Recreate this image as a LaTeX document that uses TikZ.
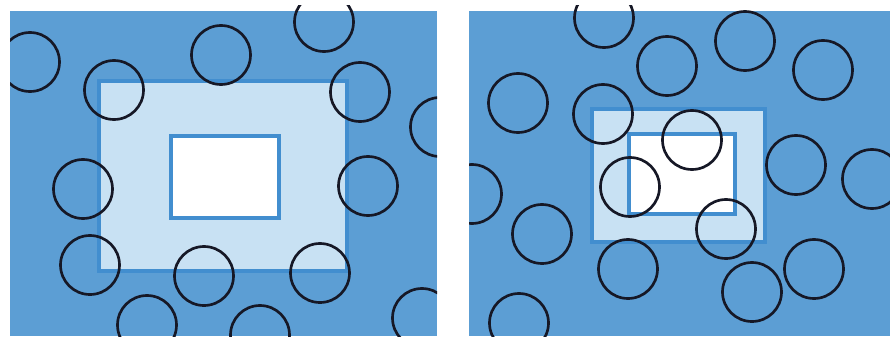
\documentclass[tikz,border=0pt]{standalone}
\usepackage{xcolor}
\usepackage{tikz}
\definecolor{mare}{RGB}{92,158,212}
\definecolor{bordo}{RGB}{66,142,207}
\definecolor{chiaro}{RGB}{200,225,243}
\definecolor{inchiostro}{RGB}{22,24,38}

\begin{document}
\begin{tikzpicture}[x=0.75pt,y=-0.75pt,
  campo/.style={fill=mare},
  zona/.style={fill=chiaro,draw=bordo,line width=3.4pt},
  centro/.style={fill=white,draw=bordo,line width=2.8pt},
  anello/.style={draw=inchiostro,line width=2pt}]
  \useasboundingbox (0,0) rectangle (890,336);

  % Pannello sinistro
  \fill[campo] (10,11) rectangle (437,336);
  \draw[zona] (99,81) rectangle (347,271);
  \draw[centro] (171,136) rectangle (279,218);
  \begin{scope}
    \clip (10,5) rectangle (437,336);
    \foreach \x/\y in {30/62,114/90,221/55,324/22,360/92,440/127,
                       83/189,368/186,90/265,204/276,320/273,
                       147/325,260/335,422/318}
      \draw[anello] (\x,\y) circle[radius=29.5];
  \end{scope}

  % Pannello destro
  \fill[campo] (469,11) rectangle (890,336);
  \draw[zona] (592,109) rectangle (765,242);
  \draw[centro] (629,134) rectangle (735,214);
  \begin{scope}
    \clip (469,5) rectangle (890,336);
    \foreach \x/\y in {604/18,667/66,745/41,823/70,518/103,603/114,
                       692/140,472/194,630/187,796/165,872/179,
                       542/234,726/229,628/269,814/269,752/292,519/323}
      \draw[anello] (\x,\y) circle[radius=29.5];
  \end{scope}
\end{tikzpicture}
\end{document}
